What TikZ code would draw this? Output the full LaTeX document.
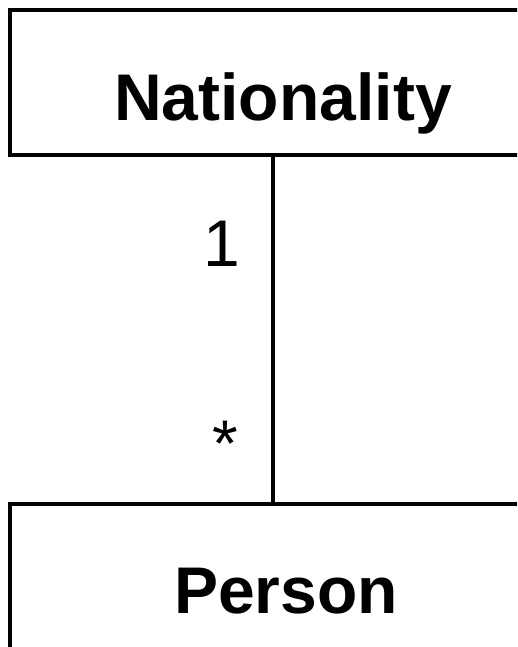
\documentclass[tikz,border=0pt]{standalone}
\usepackage{fontspec}
\setmainfont{Liberation Sans}
\begin{document}
\begin{tikzpicture}[x=1pt,y=-1pt,
  classbox/.style={draw=black,line width=4pt,fill=white,minimum width=520pt,inner sep=0pt},
  classname/.style={font=\fontsize{66}{70}\selectfont\bfseries,anchor=base,inner sep=0pt},
  mult/.style={font=\fontsize{66}{70}\selectfont,anchor=base,inner sep=0pt},
  assoc/.style={line width=4pt}]
\useasboundingbox (0,0) rectangle (517,647);
\clip (0,0) rectangle (517,647);
\fill[white] (0,0) rectangle (517,647);
\node[classbox,minimum height=145pt] (natbox) at (270,82.5) {};
\node[classbox,minimum height=200pt] (perbox) at (270,604) {};
\node[classname] (nat) at (283,121) {Nationality};
\node[classname] (per) at (286,613) {Person};
\coordinate (linex) at (273,0);
\draw[assoc] (natbox.south -| linex) -- (perbox.north -| linex);
\node[mult] (one) at (222,266) {1};
\node[mult] (many) at (225,466) {*};
\end{tikzpicture}
\end{document}
